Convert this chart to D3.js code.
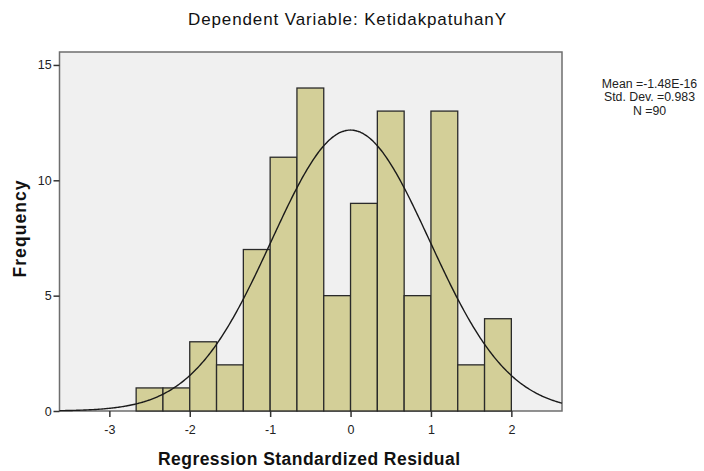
<!DOCTYPE html>
<html><head><meta charset="utf-8">
<script src="https://cdn.jsdelivr.net/npm/d3@7"></script>
<style>body{margin:0;background:#fff;} text{font-family:"Liberation Sans",Arial,sans-serif;}</style>
</head><body>
<svg id="c" width="704" height="471"></svg>
<script>
const binEdges = [-2.6667,-2.3333,-2.0,-1.6667,-1.3333,-1.0,-0.6667,-0.3333,0.0,0.3333,0.6667,1.0,1.3333,1.6667,2.0];
const counts = [1,1,3,2,7,11,14,5,9,13,5,13,2,4];
const xTicks = [-3,-2,-1,0,1,2];
const yTicks = [0,5,10,15];
const stats = ["Mean =-1.48E-16","Std. Dev. =0.983","N =90"];
const mean = -1.48e-16, sd = 0.983, n = 90;

const svg = d3.select("#c");
const L=59.5, R=562, T=52, B=411;
const x = d3.scaleLinear().domain([-3.62,2.63]).range([L,R]);
const y = d3.scaleLinear().domain([0,15]).range([B,B-15*23.07]);

svg.append("rect").attr("x",L).attr("y",T).attr("width",R-L).attr("height",B-T)
  .attr("fill","#f0f0f0").attr("stroke","#6e6e6e").attr("stroke-width",1.5);

const bins = counts.map((c,i)=>({x0:binEdges[i],x1:binEdges[i+1],c}));
svg.append("g").selectAll("rect").data(bins).join("rect")
  .attr("x",d=>x(d.x0)).attr("width",d=>x(d.x1)-x(d.x0))
  .attr("y",d=>y(d.c)).attr("height",d=>y(0)-y(d.c))
  .attr("fill","#d3cf98").attr("stroke","#2a2a2a").attr("stroke-width",1.3);

const bw = binEdges[1]-binEdges[0];
const pts = d3.range(0,401).map(i=>{const v=-3.62+i*(6.25/400);return [v, n*bw*Math.exp(-0.5*((v-mean)/sd)**2)/(sd*Math.sqrt(2*Math.PI))];});
svg.append("path").attr("d",d3.line().x(d=>x(d[0])).y(d=>y(d[1])).curve(d3.curveBasis)(pts))
  .attr("fill","none").attr("stroke","#1a1a1a").attr("stroke-width",1.4);

// axes
const fmt = d=>String(d);
const xa = svg.append("g").attr("transform",`translate(0,${B})`)
  .call(d3.axisBottom(x).tickValues(xTicks).tickSize(6).tickSizeOuter(0).tickFormat(fmt));
const ya = svg.append("g").attr("transform",`translate(${L},0)`)
  .call(d3.axisLeft(y).tickValues(yTicks).tickSize(6).tickSizeOuter(0).tickFormat(fmt));
[xa,ya].forEach(a=>{a.select(".domain").remove();a.selectAll("line").attr("stroke","#333").attr("stroke-width",1.5);
  a.selectAll("text").attr("font-size",12.5).attr("fill","#222").attr("font-family","Liberation Sans, Arial, sans-serif");});
xa.selectAll("text").attr("dy","1.15em");
ya.selectAll("text").attr("dx","0.1em");

svg.append("text").attr("x",347).attr("y",25).attr("text-anchor","middle")
  .attr("font-size",17).attr("textLength",318).attr("lengthAdjust","spacing")
  .attr("fill","#111").text("Dependent Variable: KetidakpatuhanY");
svg.append("text").attr("x",309).attr("y",465).attr("text-anchor","middle")
  .attr("font-size",17.5).attr("textLength",302).attr("lengthAdjust","spacing")
  .attr("font-weight","bold").attr("fill","#111").text("Regression Standardized Residual");
svg.append("text").attr("transform","translate(26,229) rotate(-90)").attr("text-anchor","middle")
  .attr("font-size",17.5).attr("textLength",97).attr("lengthAdjust","spacing")
  .attr("font-weight","bold").attr("fill","#111").text("Frequency");
svg.append("g").selectAll("text").data(stats).join("text")
  .attr("x",649.5).attr("y",(d,i)=>88+i*13.3).attr("text-anchor","middle")
  .attr("font-size",12.3).attr("fill","#222").text(d=>d);
</script>
</body></html>
